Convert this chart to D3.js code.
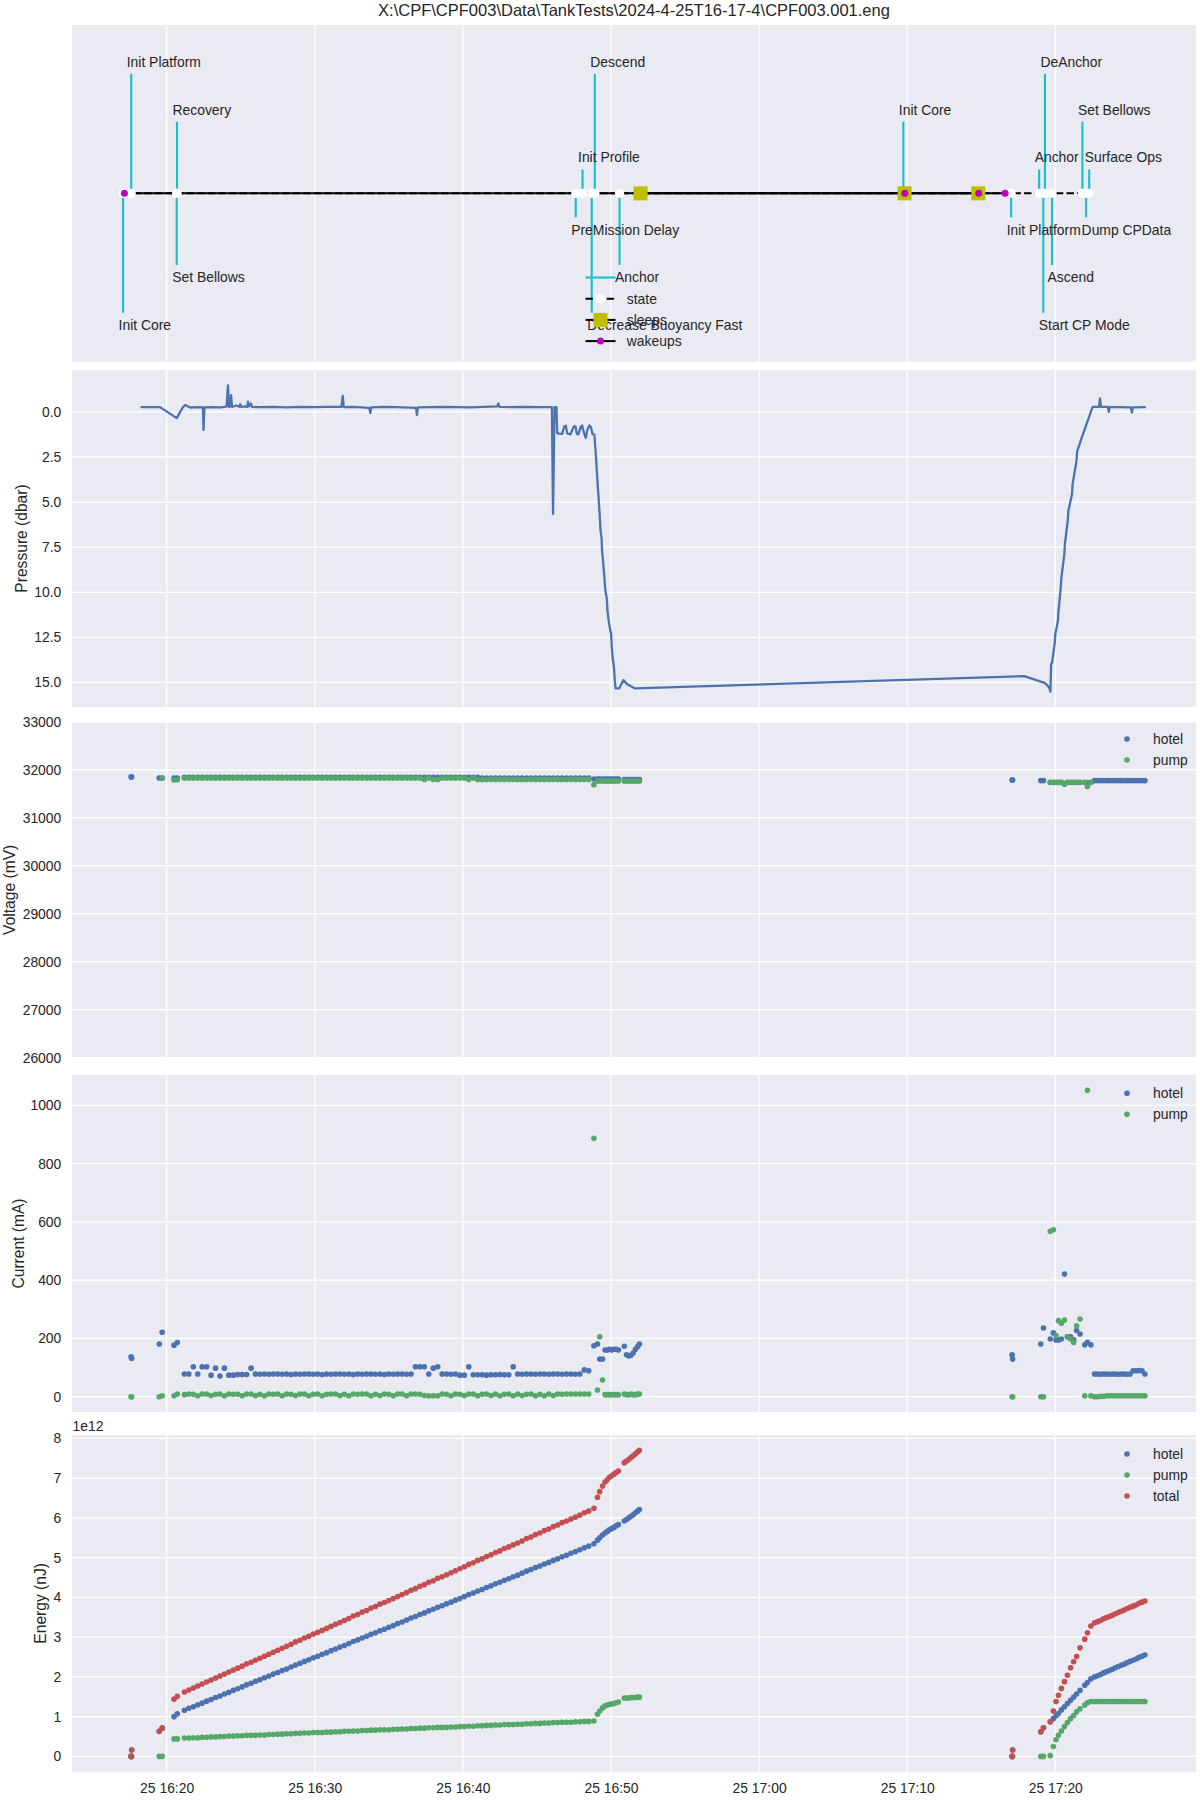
<!DOCTYPE html>
<html>
<head>
<meta charset="utf-8">
<script src="https://cdn.jsdelivr.net/npm/d3@7"></script>
<style>
  body { margin: 0; background: #fff; }
  text { font-family: "Liberation Sans", Arial, sans-serif; fill: #262626; }
</style>
</head>
<body>
<div id="chart"></div>
<script>
// times are minutes after 25 Apr 2024 16:20
const t0 = new Date(2024, 3, 25, 16, 20, 0);

//state timeline
const stateNames = ["Init Core", "Init Platform", "Set Bellows", "Recovery", "PreMission Delay", "Init Profile",
    "Decrease Buoyancy Fast", "Descend", "Anchor", "Init Core", "Init Platform", "Anchor",
    "Start CP Mode", "DeAnchor", "Ascend", "Set Bellows", "Dump CPData", "Surface Ops"];
const stateMin = [-2.94, -2.39, 0.68, 0.70, 27.62, 28.08, 28.70, 28.91, 30.58, 49.74, 57.02, 58.91,
    59.19, 59.30, 59.78, 61.83, 62.08, 62.29];
const stateLevel = [-5, 5, -3, 3, -1, 1, -5, 5, -3, 3, -1, 1, -5, 5, -3, 3, -1, 1];
const sleepMin = [32.00, 49.82, 54.80];
const wakeMin = [-2.85, 49.84, 54.83, 56.61];

//pressure record
const pressMin = [-1.69, -0.45, 0.68, 1.10, 1.25, 1.6, 2.1, 2.45, 2.49, 2.55, 3.1, 3.7, 4.05, 4.14, 4.2, 4.3, 4.35, 4.42,
    4.7, 4.9, 4.97, 5.05, 5.3, 5.45, 5.49, 5.57, 5.69, 5.78, 6.3, 7.2, 8.1, 9.0, 9.9, 10.8, 11.8, 11.89, 11.96,
    12.6, 13.68, 13.75, 13.82, 14.6, 15.5, 16.84, 16.9, 16.96, 17.8, 18.7, 19.6, 20.5, 21.4, 22.32, 22.4, 22.47,
    23.3, 24.2, 25.1, 26.01, 26.09, 26.19, 26.32, 26.37, 26.55, 26.7, 26.85, 26.95, 27.05, 27.25, 27.4, 27.5,
    27.6, 27.7, 27.8, 27.95, 28.05, 28.15, 28.3, 28.4, 28.55, 28.65, 28.75, 28.88, 28.99, 29.1, 29.2, 29.3,
    29.37, 29.4, 29.5, 29.62, 29.72, 29.76, 29.85, 29.95, 30.01, 30.05, 30.12, 30.2, 30.26, 30.31, 30.55,
    30.84, 31.1, 31.63, 57.9, 59.28, 59.45, 59.6, 59.67, 59.72, 59.78, 59.96, 60.0, 60.17, 60.21, 60.37,
    60.41, 60.61, 60.65, 60.84, 60.88, 61.13, 61.17, 61.43, 61.47, 61.78, 62.52, 62.95, 63.02, 63.08,
    63.55, 63.61, 63.67, 64.3, 65.1, 65.17, 65.23, 66.05];
const pressDbar = [-0.26, -0.26, 0.35, -0.26, -0.38, -0.24, -0.26, -0.25, 1.00, -0.25, -0.26, -0.25, -0.30, -1.47, -0.27,
    -0.30, -0.92, -0.27, -0.35, -0.28, -0.42, -0.27, -0.30, -0.28, -0.57, -0.30, -0.46, -0.27, -0.26, -0.27, -0.25,
    -0.27, -0.26, -0.27, -0.27, -0.88, -0.26, -0.27, -0.22, 0.07, -0.25, -0.27, -0.26, -0.22, 0.18, -0.25, -0.26,
    -0.27, -0.26, -0.25, -0.27, -0.30, -0.46, -0.27, -0.26, -0.27, -0.26, -0.26, 5.66, -0.26, -0.26, 1.18, 1.22,
    1.22, 0.80, 0.77, 1.20, 1.25, 1.00, 0.80, 0.80, 1.22, 1.25, 0.85, 0.75, 1.10, 1.45, 1.00, 0.75, 0.85, 1.22,
    1.27, 2.52, 4.00, 5.20, 6.60, 7.04, 7.70, 8.60, 9.90, 10.35, 11.00, 11.60, 12.10, 12.29, 13.00, 13.70, 14.13,
    14.90, 15.33, 15.33, 14.87, 15.10, 15.33, 14.65, 15.02, 15.15, 15.30, 15.51, 13.98, 13.90, 12.84, 12.30,
    11.64, 11.10, 9.71, 9.20, 7.87, 7.30, 6.03, 5.50, 4.56, 4.00, 2.72, 2.20, 1.44, -0.28, -0.28, -0.74, -0.27,
    -0.27, 0.00, -0.26, -0.26, -0.25, 0.04, -0.25, -0.26];

//engineering samples
const sampleMin = [-2.40, -2.36, -0.50, -0.30, 0.50, 0.72,
    1.2, 1.5, 1.8, 2.1, 2.4, 2.7, 3.0, 3.3, 3.6, 3.9,
    4.2, 4.5, 4.8, 5.1, 5.4, 5.7, 6.0, 6.3, 6.6, 6.9,
    7.2, 7.5, 7.8, 8.1, 8.4, 8.7, 9.0, 9.3, 9.6, 9.9,
    10.2, 10.5, 10.8, 11.1, 11.4, 11.7, 12.0, 12.3, 12.6, 12.9,
    13.2, 13.5, 13.8, 14.1, 14.4, 14.7, 15.0, 15.3, 15.6, 15.9,
    16.2, 16.5, 16.8, 17.1, 17.4, 17.7, 18.0, 18.3, 18.6, 18.9,
    19.2, 19.5, 19.8, 20.1, 20.4, 20.7, 21.0, 21.3, 21.6, 21.9,
    22.2, 22.5, 22.8, 23.1, 23.4, 23.7, 24.0, 24.3, 24.6, 24.9,
    25.2, 25.5, 25.8, 26.1, 26.4, 26.7, 27.0, 27.3, 27.6, 27.9,
    28.2, 28.5,
    28.85, 29.09, 29.24, 29.43, 29.6, 29.75, 29.9, 30.05, 30.2, 30.35, 30.5,
    30.9, 31.05, 31.2, 31.35, 31.5, 31.65, 31.8, 31.92,
    57.08, 57.12, 59.02, 59.2, 59.66, 59.87, 60.05, 60.21, 60.41, 60.62, 60.82, 61.03, 61.24, 61.44, 61.67, 61.99, 62.17, 62.4,
    62.65, 62.85, 63.05, 63.25, 63.45, 63.65, 63.85, 64.05, 64.25, 64.45, 64.65, 64.85, 65.05, 65.25, 65.45, 65.65, 65.85, 66.05];

const hotelVolt = [31855, 31855, 31833, 31833, 31833, 31833,
    31845, 31845, 31845, 31845, 31845, 31845, 31845, 31845, 31845, 31845,
    31845, 31845, 31845, 31845, 31845, 31845, 31845, 31845, 31845, 31845,
    31845, 31845, 31845, 31845, 31845, 31845, 31845, 31845, 31845, 31845,
    31845, 31845, 31845, 31845, 31845, 31845, 31845, 31845, 31845, 31845,
    31845, 31845, 31845, 31845, 31845, 31845, 31845, 31845, 31845, 31845,
    31845, 31845, 31845, 31845, 31845, 31845, 31845, 31845, 31845, 31845,
    31845, 31845, 31845, 31845, 31845, 31845, 31845, 31830, 31830, 31830,
    31830, 31830, 31830, 31830, 31830, 31830, 31830, 31830, 31830, 31830,
    31830, 31830, 31830, 31830, 31830, 31830, 31830, 31830, 31830, 31830,
    31830, 31830,
    31812, 31812, 31812, 31812, 31812, 31812, 31812, 31812, 31812, 31812, 31812,
    31800, 31800, 31800, 31800, 31800, 31800, 31800, 31800,
    31792, 31792, 31778, 31778, 31740, 31740, 31740, 31740, 31740, 31700, 31740, 31740, 31740, 31740, 31740, 31740, 31740, 31740,
    31778, 31778, 31778, 31778, 31778, 31778, 31778, 31778, 31778, 31778, 31778, 31778, 31778, 31778, 31778, 31778, 31778, 31778];

const pumpVolt = [null, null, null, 31833, 31791, 31795,
    31833, 31833, 31833, 31833, 31833, 31833, 31833, 31833, 31833, 31833,
    31833, 31833, 31833, 31833, 31833, 31833, 31833, 31833, 31833, 31833,
    31833, 31833, 31833, 31833, 31833, 31833, 31833, 31833, 31833, 31833,
    31833, 31833, 31833, 31833, 31833, 31833, 31833, 31833, 31833, 31833,
    31833, 31833, 31833, 31833, 31833, 31833, 31833, 31833, 31833, 31833,
    31833, 31833, 31833, 31833, 31800, 31833, 31800, 31800, 31833, 31833,
    31833, 31833, 31833, 31833, 31800, 31833, 31800, 31800, 31800, 31800,
    31800, 31800, 31800, 31800, 31800, 31800, 31800, 31800, 31800, 31800,
    31800, 31800, 31800, 31800, 31800, 31800, 31800, 31800, 31800, 31800,
    31800, 31800,
    31694, 31771, 31771, 31771, 31771, 31771, 31771, 31771, 31771, 31771, 31771,
    31771, 31771, 31771, 31771, 31771, 31771, 31771, 31771,
    null, null, null, null, 31743, 31743, 31743, 31743, 31743, 31715, 31743, 31743, 31743, 31743, 31743, 31743, 31653, 31743,
    null, null, null, null, null, null, null, null, null, null, null, null, null, null, null, null, null, null];

const hotelCurr = [137, 131, 181, 221, 177, 186,
    78, 78, 103, 78, 103, 103, 74, 98, 71, 98,
    74, 74, 76, 76, 76, 98, 78, 77, 78, 77,
    78, 78, 77, 78, 76, 78, 77, 78, 78, 77,
    78, 76, 78, 77, 78, 78, 77, 78, 76, 78,
    77, 78, 78, 77, 78, 76, 78, 77, 78, 78,
    77, 78, 103, 103, 103, 78, 98, 103, 78, 78,
    77, 78, 74, 74, 103, 75, 75, 75, 74, 75,
    75, 76, 75, 75, 103, 78, 77, 78, 78, 77,
    78, 78, 77, 78, 78, 77, 78, 78, 77, 78,
    92, 89,
    175, 181, 129, 129, 160, 160, 163, 160, 163, 163, 160,
    173, 144, 140, 142, 150, 163, 172, 181,
    144, 129, 181, 236, 198, 219, 195, 195, 198, 421, 206, 206, 195, 227, 215, 178, 187, 178,
    78, 78, 77, 78, 78, 77, 78, 78, 77, 78, 78, 77, 78, 89, 89, 90, 89, 78];

const pumpCurr = [0, 0, 0, 3, 3, 9,
    7, 9, 8, 3, 9, 9, 4, 8, 9, 3,
    9, 8, 8, 3, 9, 9, 4, 8, 3, 9,
    8, 9, 3, 9, 8, 4, 9, 9, 3, 8,
    9, 3, 8, 9, 9, 4, 8, 3, 9, 8,
    9, 9, 3, 8, 4, 9, 8, 3, 9, 9,
    3, 9, 9, 8, 4, 3, 3, 3, 9, 8,
    3, 9, 8, 4, 9, 9, 3, 8, 9, 4,
    9, 3, 8, 9, 3, 9, 4, 8, 9, 3,
    8, 3, 9, 4, 9, 8, 9, 9, 9, 9,
    9, 9,
    887, 23, 206, 57, 7, 7, 7, 7, 7, 7, 7,
    9, 7, 7, 9, 7, 7, 9, 9,
    0, 0, 0, 0, 568, 573, 210, 261, 252, 263, 206, 198, 186, 243, 267, 3, 1052, 3,
    0, 0, 1, 1, 3, 3, 3, 3, 3, 3, 3, 3, 3, 3, 3, 3, 3, 3];

// energies in units of 1e12 nJ
const hotelEnergy = [0, 0.16, 0.63, 0.71, 1.00, 1.07,
    1.16, 1.21, 1.25, 1.30, 1.34, 1.39, 1.43, 1.48, 1.52, 1.57,
    1.61, 1.66, 1.70, 1.75, 1.80, 1.84, 1.89, 1.93, 1.98, 2.02,
    2.07, 2.11, 2.16, 2.20, 2.25, 2.30, 2.34, 2.39, 2.43, 2.48,
    2.52, 2.57, 2.61, 2.66, 2.70, 2.75, 2.79, 2.84, 2.89, 2.93,
    2.98, 3.02, 3.07, 3.11, 3.16, 3.20, 3.25, 3.29, 3.34, 3.38,
    3.43, 3.48, 3.52, 3.57, 3.61, 3.66, 3.70, 3.75, 3.79, 3.84,
    3.88, 3.93, 3.97, 4.02, 4.07, 4.11, 4.16, 4.20, 4.25, 4.29,
    4.34, 4.38, 4.43, 4.47, 4.52, 4.56, 4.61, 4.66, 4.70, 4.75,
    4.79, 4.84, 4.88, 4.93, 4.97, 5.02, 5.06, 5.11, 5.15, 5.20,
    5.25, 5.29,
    5.35, 5.44, 5.50, 5.57, 5.62, 5.66, 5.70, 5.73, 5.76, 5.80, 5.83,
    5.92, 5.96, 6.00, 6.04, 6.08, 6.13, 6.17, 6.21,
    0, 0.16, 0.62, 0.72, 0.87, 0.95, 1.02, 1.08, 1.17, 1.25, 1.33, 1.41, 1.49, 1.57, 1.66, 1.79, 1.86, 1.95,
    2.00, 2.03, 2.06, 2.10, 2.13, 2.16, 2.19, 2.23, 2.26, 2.29, 2.32, 2.36, 2.39, 2.42, 2.45, 2.49, 2.52, 2.55];

const pumpEnergy = [0, 0, 0, 0, 0.44, 0.44,
    0.46, 0.46, 0.47, 0.47, 0.48, 0.48, 0.49, 0.49, 0.50, 0.50,
    0.51, 0.51, 0.52, 0.52, 0.53, 0.53, 0.53, 0.54, 0.54, 0.55,
    0.55, 0.56, 0.56, 0.57, 0.57, 0.58, 0.58, 0.59, 0.59, 0.60,
    0.60, 0.60, 0.61, 0.61, 0.62, 0.62, 0.63, 0.63, 0.64, 0.64,
    0.65, 0.65, 0.66, 0.66, 0.67, 0.67, 0.67, 0.68, 0.68, 0.69,
    0.69, 0.70, 0.70, 0.71, 0.71, 0.72, 0.72, 0.73, 0.73, 0.73,
    0.74, 0.74, 0.75, 0.75, 0.76, 0.76, 0.77, 0.77, 0.78, 0.78,
    0.79, 0.79, 0.80, 0.80, 0.80, 0.81, 0.81, 0.82, 0.82, 0.83,
    0.83, 0.84, 0.84, 0.85, 0.85, 0.86, 0.86, 0.86, 0.87, 0.87,
    0.88, 0.88,
    0.89, 1.06, 1.14, 1.22, 1.27, 1.29, 1.31, 1.32, 1.33, 1.35, 1.37,
    1.47, 1.47, 1.47, 1.48, 1.48, 1.48, 1.49, 1.49,
    0, 0, 0, 0, 0.02, 0.25, 0.42, 0.53, 0.64, 0.75, 0.85, 0.95, 1.03, 1.12, 1.20, 1.29, 1.35, 1.38,
    1.38, 1.38, 1.38, 1.38, 1.38, 1.38, 1.38, 1.38, 1.38, 1.38, 1.38, 1.38, 1.38, 1.38, 1.38, 1.38, 1.38, 1.38];

const totalEnergy = [0, 0.16, 0.63, 0.71, 1.44, 1.51,
    1.62, 1.67, 1.72, 1.77, 1.82, 1.87, 1.92, 1.97, 2.02, 2.07,
    2.12, 2.17, 2.22, 2.27, 2.33, 2.37, 2.42, 2.47, 2.52, 2.57,
    2.62, 2.67, 2.72, 2.77, 2.82, 2.88, 2.92, 2.98, 3.02, 3.08,
    3.12, 3.17, 3.22, 3.27, 3.32, 3.37, 3.42, 3.47, 3.53, 3.57,
    3.63, 3.67, 3.73, 3.77, 3.83, 3.87, 3.92, 3.97, 4.02, 4.07,
    4.12, 4.18, 4.22, 4.28, 4.32, 4.38, 4.42, 4.48, 4.52, 4.57,
    4.62, 4.67, 4.72, 4.77, 4.83, 4.87, 4.93, 4.97, 5.03, 5.07,
    5.13, 5.17, 5.23, 5.27, 5.32, 5.37, 5.42, 5.48, 5.52, 5.58,
    5.62, 5.68, 5.72, 5.78, 5.82, 5.88, 5.92, 5.97, 6.02, 6.07,
    6.13, 6.17,
    6.24, 6.52, 6.66, 6.80, 6.90, 6.96, 7.02, 7.06, 7.10, 7.14, 7.18,
    7.39, 7.43, 7.47, 7.52, 7.56, 7.61, 7.66, 7.70,
    0, 0.16, 0.62, 0.72, 0.87, 1.14, 1.38, 1.54, 1.71, 1.88, 2.04, 2.23, 2.38, 2.51, 2.73, 2.95, 3.11, 3.28,
    3.36, 3.39, 3.42, 3.46, 3.49, 3.52, 3.55, 3.59, 3.62, 3.65, 3.68, 3.72, 3.75, 3.78, 3.81, 3.85, 3.88, 3.91];

//tick labels
const pressTicks = [0, 2.5, 5, 7.5, 10, 12.5, 15];
const voltTicks = [26000, 27000, 28000, 29000, 30000, 31000, 32000, 33000];
const currTicks = [0, 200, 400, 600, 800, 1000];
const energyTicks = [0, 1, 2, 3, 4, 5, 6, 7, 8];

const title = "X:\\CPF\\CPF003\\Data\\TankTests\\2024-4-25T16-17-4\\CPF003.001.eng";

//layout
const width = 1200, height = 1800;
const left = 72, right = 1196;
const fs = 13.9;
const blue = "#4c72b0", green = "#55a868", red = "#c44e52";
const cyan = "#17becf";
const dotR = 2.8;

const toTime = m => new Date(t0.getTime() + m * 60000);

function padded(vals) {
    const [a, b] = d3.extent(vals.filter(v => v != null));
    const p = (b - a) * 0.05;
    return [a - p, b + p];
}

const svg = d3.select("#chart")
    .append("svg")
    .attr("width", width)
    .attr("height", height);

svg.append("rect").attr("width", width).attr("height", height).attr("fill", "#fff");

//shared x scale, matplotlib style 5% margins
const xMin = padded(stateMin.concat(sleepMin, wakeMin, sampleMin, pressMin));
const x = d3.scaleTime()
    .domain([toTime(xMin[0]), toTime(xMin[1])])
    .range([left, right]);
const xTicks = x.ticks(d3.timeMinute.every(10));

svg.append("text")
    .attr("x", (left + right) / 2)
    .attr("y", 16)
    .attr("text-anchor", "middle")
    .attr("font-size", 16.5)
    .text(title);

function panel(top, bottom, yScale, ticks, fmt, label, labelX) {
    const g = svg.append("g");
    g.append("rect")
        .attr("x", left).attr("y", top)
        .attr("width", right - left).attr("height", bottom - top)
        .attr("fill", "#eaeaf2");

    g.append("g").selectAll("line")
        .data(xTicks)
        .join("line")
        .attr("x1", d => x(d)).attr("x2", d => x(d))
        .attr("y1", top).attr("y2", bottom)
        .attr("stroke", "#fff").attr("stroke-width", 1.25);

    if (ticks) {
        g.append("g").selectAll("line")
            .data(ticks)
            .join("line")
            .attr("x1", left).attr("x2", right)
            .attr("y1", d => yScale(d)).attr("y2", d => yScale(d))
            .attr("stroke", "#fff").attr("stroke-width", 1.25);

        const ax = g.append("g")
            .attr("transform", `translate(${left},0)`)
            .call(d3.axisLeft(yScale).tickValues(ticks).tickFormat(fmt).tickSize(0).tickPadding(10.7));
        ax.select(".domain").remove();
        ax.attr("font-family", null).attr("font-size", fs);
    }

    if (label) {
        g.append("text")
            .attr("transform", `translate(${labelX},${(top + bottom) / 2}) rotate(-90)`)
            .attr("text-anchor", "middle")
            .attr("dy", "0.35em")
            .attr("font-size", 15.6)
            .text(label);
    }
    return g;
}

function dots(g, y, vals, color) {
    g.append("g").selectAll("circle")
        .data(sampleMin.map((m, i) => [m, vals[i]]).filter(d => d[1] != null))
        .join("circle")
        .attr("cx", d => x(toTime(d[0])))
        .attr("cy", d => y(d[1]))
        .attr("r", dotR)
        .attr("fill", color);
}

function legend(g, top, entries) {
    entries.forEach((e, i) => {
        const cy = top + i * 21;
        g.append("circle").attr("cx", 1127).attr("cy", cy).attr("r", dotR).attr("fill", e[1]);
        g.append("text").attr("x", 1153).attr("y", cy).attr("dy", "0.35em")
            .attr("font-size", fs).text(e[0]);
    });
}

//state panel
const sTop = 25, sBottom = 361.7;
const ys = d3.scaleLinear().domain([-7.05, 7.05]).range([sBottom, sTop]);
const sp = panel(sTop, sBottom, ys, null);
const y0 = ys(0);

sp.append("g").selectAll("line")
    .data(stateMin.map((m, i) => [m, stateLevel[i]]))
    .join("line")
    .attr("x1", d => x(toTime(d[0]))).attr("x2", d => x(toTime(d[0])))
    .attr("y1", y0).attr("y2", d => ys(d[1]))
    .attr("stroke", cyan).attr("stroke-width", 2.1);

function hline(g, from, to, dash) {
    g.append("line")
        .attr("x1", x(toTime(from))).attr("x2", x(toTime(to)))
        .attr("y1", y0).attr("y2", y0)
        .attr("stroke", "#000").attr("stroke-width", 2)
        .attr("stroke-dasharray", dash);
}

hline(sp, d3.min(sleepMin), d3.max(sleepMin), null);
hline(sp, d3.min(wakeMin), d3.max(wakeMin), null);
hline(sp, d3.min(stateMin), d3.max(stateMin), "7.4,3.2");

sp.append("g").selectAll("circle")
    .data(stateMin)
    .join("circle")
    .attr("cx", d => x(toTime(d))).attr("cy", y0)
    .attr("r", 4.6).attr("fill", "#fff");

sp.append("g").selectAll("rect")
    .data(sleepMin)
    .join("rect")
    .attr("x", d => x(toTime(d)) - 7).attr("y", y0 - 7)
    .attr("width", 14).attr("height", 14)
    .attr("fill", "#bfbf00");

sp.append("g").selectAll("circle")
    .data(wakeMin)
    .join("circle")
    .attr("cx", d => x(toTime(d))).attr("cy", y0)
    .attr("r", 3.5).attr("fill", "#bf00bf");

sp.append("g").selectAll("text")
    .data(stateNames.map((n, i) => [n, stateMin[i], stateLevel[i]]))
    .join("text")
    .attr("x", d => x(toTime(d[1])) - 4.5)
    .attr("y", d => d[2] > 0 ? ys(d[2]) - 7 : ys(d[2]) + 17.3)
    .attr("font-size", fs)
    .text(d => d[0]);

//state legend, lower center
const lx = (left + right) / 2 - 48.5;
const lRows = [277.5, 298.7, 319.9, 341.1];
sp.append("line").attr("x1", lx).attr("x2", lx + 30).attr("y1", lRows[0]).attr("y2", lRows[0])
    .attr("stroke", cyan).attr("stroke-width", 2.1);
[["state", "7.4,3.2"], ["sleeps", null], ["wakeups", null]].forEach((e, i) => {
    const cy = lRows[i + 1];
    sp.append("line").attr("x1", lx).attr("x2", lx + 30).attr("y1", cy).attr("y2", cy)
        .attr("stroke", "#000").attr("stroke-width", 2).attr("stroke-dasharray", e[1]);
    if (i === 0) sp.append("circle").attr("cx", lx + 15).attr("cy", cy).attr("r", 4.6).attr("fill", "#fff");
    if (i === 1) sp.append("rect").attr("x", lx + 8).attr("y", cy - 7).attr("width", 14).attr("height", 14).attr("fill", "#bfbf00");
    if (i === 2) sp.append("circle").attr("cx", lx + 15).attr("cy", cy).attr("r", 3.5).attr("fill", "#bf00bf");
    sp.append("text").attr("x", lx + 41.3).attr("y", cy).attr("dy", "0.35em").attr("font-size", fs).text(e[0]);
});

//pressure panel
const pTop = 370, pBottom = 707;
const yp = d3.scaleLinear().domain(padded(pressDbar)).range([pTop, pBottom]);
const pp = panel(pTop, pBottom, yp, pressTicks, d3.format(".1f"), "Pressure (dbar)", 22);
pp.append("path")
    .datum(pressMin.map((m, i) => [m, pressDbar[i]]))
    .attr("fill", "none")
    .attr("stroke", blue)
    .attr("stroke-width", 2.3)
    .attr("stroke-linejoin", "round")
    .attr("stroke-linecap", "round")
    .attr("d", d3.line().x(d => x(toTime(d[0]))).y(d => yp(d[1])));

//voltage panel
const vTop = 722, vBottom = 1057.7;
const yv = d3.scaleLinear().domain([26000, 33000]).range([vBottom, vTop]);
const vp = panel(vTop, vBottom, yv, voltTicks, d3.format("d"), "Voltage (mV)", 9.5);
dots(vp, yv, hotelVolt, blue);
dots(vp, yv, pumpVolt, green);
legend(vp, 739, [["hotel", blue], ["pump", green]]);

//current panel
const cTop = 1075, cBottom = 1412;
const yc = d3.scaleLinear().domain(padded(hotelCurr.concat(pumpCurr))).range([cBottom, cTop]);
const cp = panel(cTop, cBottom, yc, currTicks, d3.format("d"), "Current (mA)", 18.3);
dots(cp, yc, hotelCurr, blue);
dots(cp, yc, pumpCurr, green);
legend(cp, 1093.3, [["hotel", blue], ["pump", green]]);

//energy panel
const eTop = 1435, eBottom = 1771.7;
const ye = d3.scaleLinear().domain(padded(hotelEnergy.concat(pumpEnergy, totalEnergy))).range([eBottom, eTop]);
const ep = panel(eTop, eBottom, ye, energyTicks, d3.format("d"), "Energy (nJ)", 40.5);
dots(ep, ye, hotelEnergy, blue);
dots(ep, ye, pumpEnergy, green);
dots(ep, ye, totalEnergy, red);
legend(ep, 1454, [["hotel", blue], ["pump", green], ["total", red]]);
ep.append("text").attr("x", 72.5).attr("y", 1431).attr("font-size", fs).text("1e12");

//shared time axis
const xa = svg.append("g")
    .attr("transform", `translate(0,${eBottom})`)
    .call(d3.axisBottom(x).ticks(d3.timeMinute.every(10)).tickFormat(d3.timeFormat("%d %H:%M")).tickSize(0).tickPadding(11.2));
xa.select(".domain").remove();
xa.attr("font-family", null).attr("font-size", fs);
</script>
</body>
</html>
